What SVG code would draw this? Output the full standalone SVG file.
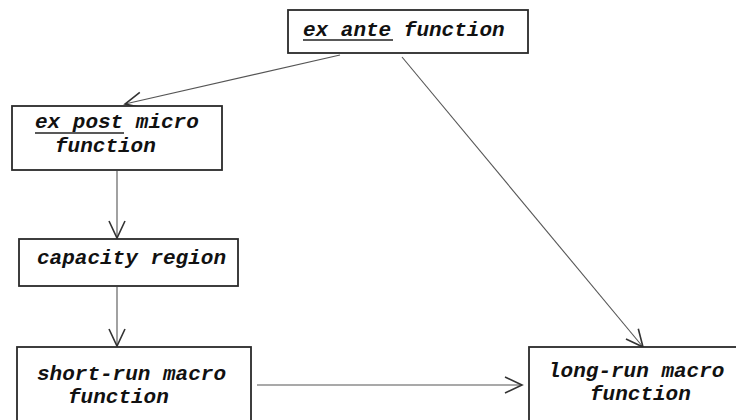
<svg xmlns="http://www.w3.org/2000/svg" width="736" height="420" viewBox="0 0 736 420">
<defs>
<style>
.box{fill:#fff;stroke:#2a2a2a;stroke-width:1.8}
.t{font-family:"Liberation Mono","Courier New",monospace;font-weight:bold;font-style:italic;font-size:21px;fill:#111}
.ul{stroke:#222;stroke-width:1.6}
.c{stroke:#555;stroke-width:1.1;fill:none}
.ah{stroke:#333;stroke-width:1.6;fill:none}
</style>
<marker id="arr" viewBox="-20 -10 22 20" refX="0" refY="0" markerWidth="22" markerHeight="20" markerUnits="userSpaceOnUse" orient="auto">
<path class="ah" d="M-17,-8 L0,0 L-17,8"/>
</marker>
</defs>
<rect width="736" height="420" fill="#fff"/>
<g id="connectors">
<line class="c" x1="340" y1="55" x2="125" y2="104" marker-end="url(#arr)"/>
<line class="c" x1="402" y1="57" x2="643" y2="347" marker-end="url(#arr)"/>
<line class="c" x1="117" y1="171" x2="117" y2="238" marker-end="url(#arr)"/>
<line class="c" x1="117" y1="287" x2="117" y2="346" marker-end="url(#arr)"/>
<line class="c" x1="257" y1="385" x2="522" y2="385" marker-end="url(#arr)"/>
</g>
<g id="ex-ante">
<rect class="box" x="288" y="10" width="240" height="43"/>
<text class="t" x="303" y="36">ex ante function</text>
<line class="ul" x1="303" y1="40" x2="393" y2="40"/>
</g>
<g id="ex-post">
<rect class="box" x="12" y="106" width="210" height="64"/>
<text class="t" x="35" y="128">ex post micro</text>
<line class="ul" x1="35" y1="133" x2="124" y2="133"/>
<text class="t" x="55" y="152">function</text>
</g>
<g id="capacity">
<rect class="box" x="19" y="239" width="219" height="47"/>
<text class="t" x="37" y="264">capacity region</text>
</g>
<g id="short-run">
<rect class="box" x="17" y="347" width="234" height="80"/>
<text class="t" x="37" y="380">short-run macro</text>
<text class="t" x="68" y="403">function</text>
</g>
<g id="long-run">
<rect class="box" x="529" y="347" width="210" height="80"/>
<text class="t" x="548" y="377">long-run macro</text>
<text class="t" x="590" y="400">function</text>
</g>
</svg>
